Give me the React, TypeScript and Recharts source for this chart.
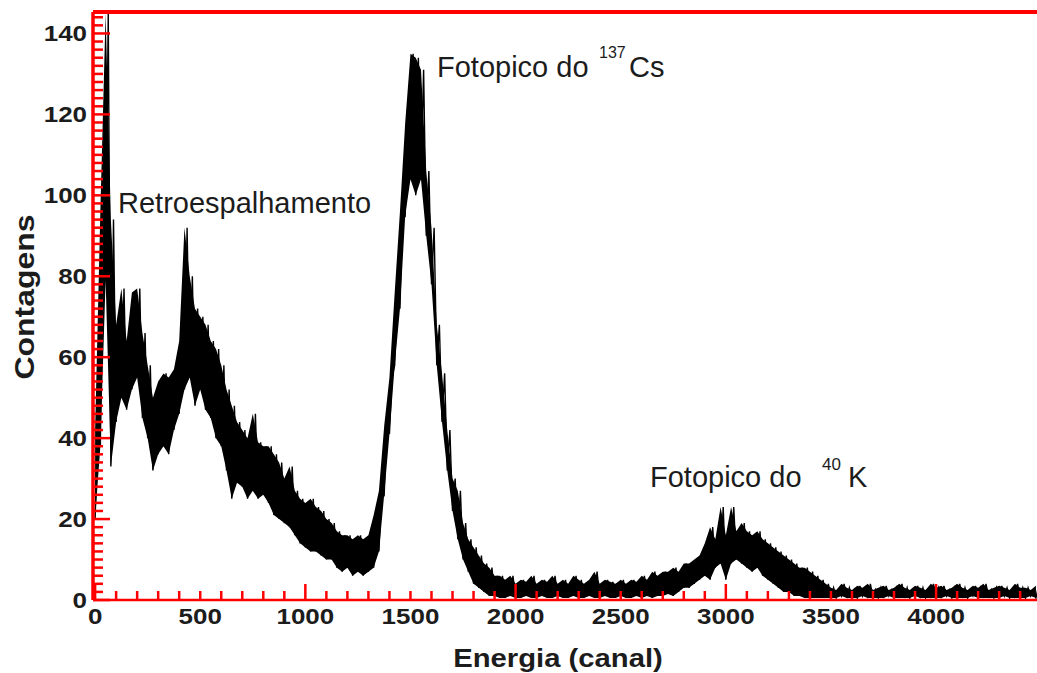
import React from 'react'
import { ComposedChart, Area, Line, XAxis, YAxis, ReferenceLine } from 'recharts'

// spectrum sampled every 25 channels: lower and upper edge of the noisy band
const STEP = 25
const lowCounts = [
  20, 38, 79, 33, 44, 50, 47, 52, 55, 45,
  40, 32, 36, 38, 36, 42, 46, 52, 55, 48,
  52, 47, 45, 40, 38, 32, 25, 29, 28, 25,
  27, 25, 26, 24, 21, 20, 19, 18, 16, 14,
  13, 12, 12, 11, 10, 10, 8, 7, 8, 6,
  7, 6, 7, 8, 12, 26, 41, 58, 72, 95,
  104, 100, 104, 90, 78, 58, 44, 32, 22, 15,
  10, 7, 4, 3, 2, 1, 1, 0.5, 0.5, 1,
  0.5, 0.5, 1, 0.5, 0.5, 1, 0.5, 0.5, 1, 0.5,
  0.5, 1, 0.5, 0.5, 1, 0.5, 0.5, 1, 0.5, 0.5,
  1, 0.5, 0.5, 1, 0.5, 1, 0.5, 1, 1, 1.5,
  1, 2, 3, 3, 4, 5, 6, 5, 8, 9,
  5, 9, 10, 9, 8, 7, 8, 6, 5, 4,
  3, 2, 2, 1, 1, 0.5, 0.5, 0.5, 0.5, 0.5,
  0.5, 0.5, 1, 0.5, 0.5, 0.5, 1, 0.5, 0.5, 0.5,
  0.5, 1, 0.5, 0.5, 0.5, 0.5, 1, 0.5, 0.5, 0.5,
  0.5, 0.5, 1, 0.5, 0.5, 0.5, 0.5, 1, 0.5, 0.5,
  0.5, 0.5, 0.5, 1, 0.5, 0.5, 0.5, 0.5, 1, 0.5,
]
const highCounts = [
  42, 96, 145, 94, 68, 77, 64, 76, 77, 66,
  58, 50, 54, 56, 55, 57, 64, 92, 80, 72,
  70, 68, 64, 62, 58, 52, 48, 44, 42, 40,
  46, 39, 38, 38, 36, 34, 30, 33, 27, 25,
  24, 25, 23, 22, 20, 19, 17, 16, 16, 15,
  16, 15, 16, 21, 27, 43, 55, 76, 96, 118,
  135, 134, 131, 106, 92, 68, 56, 42, 30, 27,
  19, 15, 13, 11, 9, 8, 6, 6, 5, 6,
  4, 5, 4.5, 6, 4, 5, 4.5, 6, 4, 5,
  4, 6, 5, 4, 5, 7, 4, 5, 4.5, 4,
  5, 4, 5, 4.5, 6, 5, 7, 6, 7, 7,
  8, 7, 9, 9, 10, 11, 14, 18, 15, 23,
  16, 23, 17, 19, 17, 16, 17, 15, 14, 13,
  12, 11, 10, 9, 8, 8, 7, 6, 5, 4,
  3, 2.5, 4, 3, 2.5, 3.5, 3, 4, 2.5, 3,
  3.5, 2.5, 3, 4, 3, 2.5, 3.5, 3, 2.5, 4,
  3, 3.5, 2.5, 3, 4, 3, 2.5, 3.5, 3, 4,
  2.5, 3, 3.5, 3, 2.5, 4, 3, 3, 2.5, 3.5,
]

const xTickLabels = [0, 500, 1000, 1500, 2000, 2500, 3000, 3500, 4000]
const yTickLabels = [0, 20, 40, 60, 80, 100, 120, 140]

const X_MIN = -10
const X_MAX = 4480
const Y_MAX = 145.3

// solid core of the band
const band = lowCounts.map((lo, i) => ({ canal: i * STEP, faixa: [lo, highCounts[i]] }))
// zigzag between lower and upper edge so the band edges read as noise
const spectrum = lowCounts.flatMap((lo, i) => [
  { canal: i * STEP, contagens: lo },
  { canal: i * STEP + STEP / 2, contagens: highCounts[i] },
])

const xTicks: number[] = []
for (let c = 0; c <= 4400; c += 100) xTicks.push(c)
const yTicks: number[] = []
for (let v = 0; v <= 144; v += 2) yTicks.push(v)

const RED = '#ff0000'
const INK = '#1c1c1c'
const FONT = '"Liberation Sans", Arial, sans-serif'

const XTick = (props: any) => {
  const { x, y, payload } = props
  const v = payload.value as number
  const major = v % 1000 === 0
  return (
    <g>
      <line x1={x} x2={x} y1={y} y2={y - (major ? 16 : 9)} stroke={RED} strokeWidth={2.5} />
      {xTickLabels.includes(v) && (
        <text
          transform={`translate(${x},${y + 24}) scale(1.18,1)`}
          textAnchor="middle"
          fontFamily={FONT}
          fontWeight="bold"
          fontSize={22}
          fill={INK}
        >
          {v}
        </text>
      )}
    </g>
  )
}

const YTick = (props: any) => {
  const { x, y, payload } = props
  const v = payload.value as number
  const major = v % 20 === 0
  return (
    <g>
      <line x1={x} x2={x + (major ? 17 : 10)} y1={y} y2={y} stroke={RED} strokeWidth={2.5} />
      {yTickLabels.includes(v) && (
        <text
          transform={`translate(${x - 6},${y + 8}) scale(1.18,1)`}
          textAnchor="end"
          fontFamily={FONT}
          fontWeight="bold"
          fontSize={22}
          fill={INK}
        >
          {v}
        </text>
      )}
    </g>
  )
}

export default function App() {
  return (
    <div style={{ position: 'absolute', left: 0, top: 0, width: 1037, height: 673, background: '#fff' }}>
      <ComposedChart width={1037} height={673} margin={{ top: 12, right: 0, bottom: 13, left: 0 }}>
        <Area
          data={band}
          type="linear"
          dataKey="faixa"
          stroke="none"
          fill="#000"
          fillOpacity={1}
          dot={false}
          activeDot={false}
          isAnimationActive={false}
        />
        <Line
          data={spectrum}
          type="linear"
          dataKey="contagens"
          stroke="#000"
          strokeWidth={1.4}
          dot={false}
          activeDot={false}
          isAnimationActive={false}
        />
        <ReferenceLine y={Y_MAX} stroke={RED} strokeWidth={4} />
        <XAxis
          dataKey="canal"
          type="number"
          domain={[X_MIN, X_MAX]}
          allowDataOverflow
          ticks={xTicks}
          interval={0}
          tickSize={0}
          tickMargin={0}
          tick={<XTick />}
          height={60}
          axisLine={{ stroke: RED, strokeWidth: 2.5 }}
        />
        <YAxis
          type="number"
          domain={[0, Y_MAX]}
          allowDataOverflow
          ticks={yTicks}
          interval={0}
          tickSize={0}
          tickMargin={0}
          tick={<YTick />}
          width={93}
          axisLine={{ stroke: RED, strokeWidth: 3.5 }}
        />
      </ComposedChart>
      <svg
        width={1037}
        height={673}
        style={{ position: 'absolute', left: 0, top: 0, pointerEvents: 'none' }}
      >
        <g fontFamily={FONT} fill={INK}>
          <text
            transform="translate(34,297) rotate(-90) scale(1.14,1)"
            textAnchor="middle"
            fontWeight="bold"
            fontSize={28}
          >
            Contagens
          </text>
          <text
            transform="translate(558,667) scale(1.17,1)"
            textAnchor="middle"
            fontWeight="bold"
            fontSize={25}
          >
            Energia (canal)
          </text>
          <text x={118} y={213} fontSize={29}>
            Retroespalhamento
          </text>
          <text fontSize={29}>
            <tspan x={437} y={77}>Fotopico do</tspan>
            <tspan x={599} y={58} fontSize={16}>137</tspan>
            <tspan x={629} y={77}>Cs</tspan>
          </text>
          <text fontSize={29}>
            <tspan x={650} y={487}>Fotopico do</tspan>
            <tspan x={822} y={470} fontSize={17}>40</tspan>
            <tspan x={848} y={487}>K</tspan>
          </text>
        </g>
      </svg>
    </div>
  )
}
